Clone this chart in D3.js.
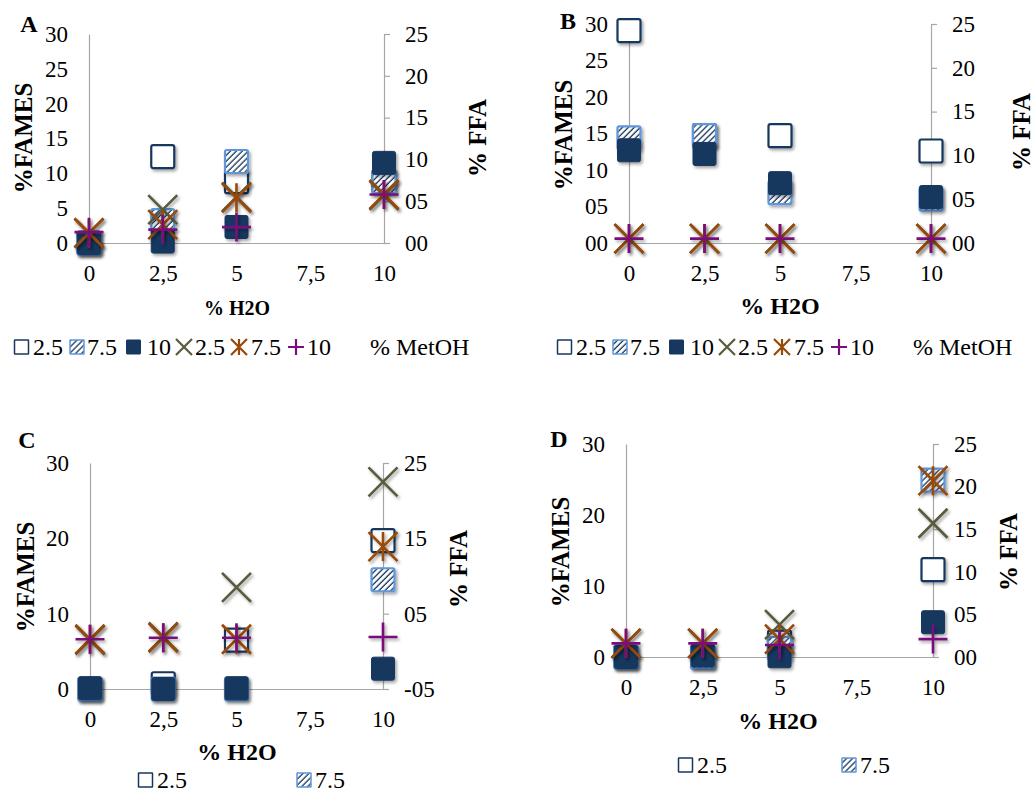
<!DOCTYPE html>
<html><head><meta charset="utf-8">
<script src="https://cdn.jsdelivr.net/npm/d3@7"></script>
<style>
body{margin:0;background:#fff}
svg{display:block}
text{font-family:"Liberation Serif","Times New Roman",serif;fill:#000}
</style>
</head><body>
<svg id="chart" width="1034" height="793"></svg>
<script>
// ---------- DATA ----------
const h2o = [0, 2.5, 5, 10];
const xTicks = [0, 2.5, 5, 7.5, 10];
const xTickLabels = ["0", "2,5", "5", "7,5", "10"];
const metohLabels = ["2.5", "7.5", "10", "2.5", "7.5", "10"];
const legendTitle = "% MetOH";

// Panel A  (FAMES on left axis, FFA on right axis)
const famesA25 = [0, 12.4, 8.8, 8.8];
const famesA75 = [0, 3.2, 11.7, 8.8];
const famesA10 = [0, 0.2, 2.3, 11.5];
const ffaA25 = [1.2, 4.0, 5.5, 5.7];
const ffaA75 = [1.2, 2.2, 5.4, 5.8];
const ffaA10 = [1.3, 1.6, 1.9, 5.8];
const leftTicksA = [0, 5, 10, 15, 20, 25, 30];
const leftLabelsA = ["0", "5", "10", "15", "20", "25", "30"];
const rightTicksA = [0, 5, 10, 15, 20, 25];
const rightLabelsA = ["00", "05", "10", "15", "20", "25"];

// Panel B
const famesB25 = [29.1, 14.7, 14.7, 12.6];
const famesB75 = [14.4, 14.7, 6.9, 6.0];
const famesB10 = [12.7, 12.2, 8.2, 6.3];
const ffaB25 = [0.5, 0.5, 0.5, 0.5];
const ffaB75 = [0.5, 0.5, 0.5, 0.5];
const ffaB10 = [0.5, 0.5, 0.5, 0.5];
const leftTicksB = [0, 5, 10, 15, 20, 25, 30];
const leftLabelsB = ["00", "05", "10", "15", "20", "25", "30"];
const rightTicksB = [0, 5, 10, 15, 20, 25];
const rightLabelsB = ["00", "05", "10", "15", "20", "25"];

// Panel C
const famesC25 = [0, 0.7, 6.5, 19.7];
const famesC75 = [0, 0, 0, 14.5];
const famesC10 = [0.1, 0, 0.1, 2.7];
const ffaC25 = [1.5, 1.9, 8.5, 22.5];
const ffaC75 = [1.6, 1.8, 1.6, 13.9];
const ffaC10 = [1.6, 1.8, 1.8, 1.9];
const leftTicksC = [0, 10, 20, 30];
const leftLabelsC = ["0", "10", "20", "30"];
const rightTicksC = [-5, 5, 15, 25];
const rightLabelsC = ["-05", "05", "15", "25"];

// Panel D
const famesD25 = [0, 0, 2.1, 12.3];
const famesD75 = [0, 0, 1.2, 24.9];
const famesD10 = [0, 0.2, 0.1, 4.9];
const ffaD25 = [1.6, 1.6, 3.8, 15.7];
const ffaD75 = [1.6, 1.6, 2.1, 20.7];
const ffaD10 = [1.6, 1.6, 1.4, 2.1];
const leftTicksD = [0, 10, 20, 30];
const leftLabelsD = ["0", "10", "20", "30"];
const rightTicksD = [0, 5, 10, 15, 20, 25];
const rightLabelsD = ["00", "05", "10", "15", "20", "25"];

// ---------- STYLE / LAYOUT ----------
const NAVY = "#17375E", LIGHTBLUE = "#5F97DA", AXIS = "#A6A6A6";
const COL_X = "#5A5A3C", COL_STAR = "#984807", COL_PLUS = "#7A0F7C";
const symbolOrder = ["hollow", "hatch", "navy", "x", "star", "plus"];

const panels = [
  { id: "A", left: 89, right: 384, top: 34, bottom: 243,
    lDom: [0, 30], rDom: [0, 25],
    lT: leftTicksA, lL: leftLabelsA, rT: rightTicksA, rL: rightLabelsA,
    fames: [famesA25, famesA75, famesA10], ffa: [ffaA25, ffaA75, ffaA10],
    letter: [29, 24], famesT: [23, 138], ffaT: [477, 138], xT: [237, 308], xSans: true,
    legY: 347, leg: { x0: 14, sym: [7.5, 63, 119.5, 170, 225, 282], txt: [19, 73, 133, 181, 237, 293], title: 356, n: 6 } },
  { id: "B", left: 629, right: 931, top: 24, bottom: 243,
    lDom: [0, 30], rDom: [0, 25],
    lT: leftTicksB, lL: leftLabelsB, rT: rightTicksB, rL: rightLabelsB,
    fames: [famesB25, famesB75, famesB10], ffa: [ffaB25, ffaB75, ffaB10],
    letter: [568, 21], famesT: [563, 135], ffaT: [1021, 132], xT: [780, 306], xSans: false,
    legY: 347, leg: { x0: 557, sym: [7.5, 63, 119.5, 170, 225, 282], txt: [19, 73, 133, 181, 237, 293], title: 356, n: 6 } },
  { id: "C", left: 90, right: 383, top: 463, bottom: 689,
    lDom: [0, 30], rDom: [-5, 25],
    lT: leftTicksC, lL: leftLabelsC, rT: rightTicksC, rL: rightLabelsC,
    fames: [famesC25, famesC75, famesC10], ffa: [ffaC25, ffaC75, ffaC10],
    letter: [27, 440], famesT: [25, 577], ffaT: [458, 569], xT: [237, 752], xSans: false,
    legY: 780, leg: { x0: 138, sym: [7.5, 166], txt: [19, 177], title: null, n: 2 } },
  { id: "D", left: 626, right: 933, top: 444, bottom: 657,
    lDom: [0, 30], rDom: [0, 25],
    lT: leftTicksD, lL: leftLabelsD, rT: rightTicksD, rL: rightLabelsD,
    fames: [famesD25, famesD75, famesD10], ffa: [ffaD25, ffaD75, ffaD10],
    letter: [559, 439], famesT: [560, 552], ffaT: [1008, 552], xT: [778, 721], xSans: false,
    legY: 765, leg: { x0: 678, sym: [7.5, 171], txt: [19, 182], title: null, n: 2 } }
];

const svg = d3.select("#chart");
const defs = svg.append("defs");
const pat = defs.append("pattern").attr("id", "hatch").attr("patternUnits", "userSpaceOnUse")
  .attr("width", 4.2).attr("height", 4.2).attr("patternTransform", "rotate(45)");
pat.append("rect").attr("width", 4.2).attr("height", 4.2).attr("fill", "#fff");
pat.append("line").attr("x1", 1).attr("y1", 0).attr("x2", 1).attr("y2", 4.2)
  .attr("stroke", NAVY).attr("stroke-width", 1.3);
const flt = defs.append("filter").attr("id", "shadow").attr("x", "-40%").attr("y", "-40%")
  .attr("width", "180%").attr("height", "180%");
flt.append("feDropShadow").attr("dx", 1.8).attr("dy", 2.2).attr("stdDeviation", 1.4)
  .attr("flood-color", "#000").attr("flood-opacity", 0.35);

function drawSymbol(g, type, cx, cy, s, shadow) {
  const h = s / 2;
  const grp = g.append("g");
  if (shadow) grp.attr("filter", "url(#shadow)");
  if (type === "hollow" || type === "hatch" || type === "navy") {
    const sw = shadow ? 2.2 : 1.5;
    grp.append("rect").attr("x", cx - h).attr("y", cy - h).attr("width", s).attr("height", s)
      .attr("rx", shadow ? 2 : 0.5)
      .attr("fill", type === "hollow" ? "#fff" : type === "hatch" ? "url(#hatch)" : NAVY)
      .attr("stroke", type === "hatch" ? LIGHTBLUE : NAVY)
      .attr("stroke-width", type === "navy" ? 1 : sw);
  } else {
    const col = type === "x" ? COL_X : type === "star" ? COL_STAR : COL_PLUS;
    const sw = shadow ? 2.6 : 2.2;
    const path = d3.path();
    if (type === "x" || type === "star") {
      path.moveTo(cx - h, cy - h); path.lineTo(cx + h, cy + h);
      path.moveTo(cx + h, cy - h); path.lineTo(cx - h, cy + h);
    }
    if (type === "star") { path.moveTo(cx, cy - h); path.lineTo(cx, cy + h); }
    if (type === "plus") {
      path.moveTo(cx - h, cy); path.lineTo(cx + h, cy);
      path.moveTo(cx, cy - h); path.lineTo(cx, cy + h);
    }
    grp.append("path").attr("d", path.toString()).attr("fill", "none")
      .attr("stroke", col).attr("stroke-width", sw);
  }
}

panels.forEach(P => {
  const g = svg.append("g");
  const x = d3.scaleLinear().domain([0, 10]).range([P.left, P.right]);
  const yL = d3.scaleLinear().domain(P.lDom).range([P.bottom, P.top]);
  const yR = d3.scaleLinear().domain(P.rDom).range([P.bottom, P.top]);

  // axes
  const ax = g.append("g").attr("transform", `translate(0,${yL(0)})`)
    .call(d3.axisBottom(x).tickValues(xTicks).tickFormat((d, i) => xTickLabels[i]).tickSize(0).tickSizeOuter(0));
  ax.selectAll("text").attr("y", 30).attr("dy", "0.35em");
  const al = g.append("g").attr("transform", `translate(${P.left},0)`)
    .call(d3.axisLeft(yL).tickValues(P.lT).tickFormat((d, i) => P.lL[i]).tickSize(0).tickSizeOuter(0).tickPadding(21));
  const ar = g.append("g").attr("transform", `translate(${P.right},0)`)
    .call(d3.axisRight(yR).tickValues(P.rT).tickFormat((d, i) => P.rL[i]).tickSize(6).tickSizeOuter(0).tickPadding(15));
  [ax, al, ar].forEach(a => {
    a.select(".domain").attr("stroke", AXIS).attr("stroke-width", 1.2);
    a.selectAll(".tick line").attr("stroke", AXIS).attr("stroke-width", 1.2);
    a.selectAll("text").attr("font-size", 23).attr("font-family", '"Liberation Serif", serif').attr("fill", "#111");
  });

  // marks: FAMES squares (left axis), FFA crosses (right axis)
  const marks = g.append("g");
  ["hollow", "hatch", "navy"].forEach((t, k) => {
    P.fames[k].forEach((v, i) => drawSymbol(marks, t, x(h2o[i]), yL(v), 23, true));
  });
  ["x", "star", "plus"].forEach((t, k) => {
    P.ffa[k].forEach((v, i) => drawSymbol(marks, t, x(h2o[i]), yR(v), 29, true));
  });

  // titles
  g.append("text").attr("x", P.letter[0]).attr("y", P.letter[1]).attr("dy", "0.35em")
    .attr("text-anchor", "middle").attr("font-weight", "bold").attr("font-size", 24).text(P.id);
  g.append("text").attr("transform", `translate(${P.famesT[0]},${P.famesT[1]}) rotate(-90)`)
    .attr("dy", "0.35em").attr("text-anchor", "middle").attr("font-weight", "bold").attr("font-size", 25).text("%FAMES");
  g.append("text").attr("transform", `translate(${P.ffaT[0]},${P.ffaT[1]}) rotate(-90)`)
    .attr("dy", "0.35em").attr("text-anchor", "middle").attr("font-weight", "bold").attr("font-size", 25).text("% FFA");
  const xt = g.append("text").attr("x", P.xT[0]).attr("y", P.xT[1]).attr("dy", "0.35em")
    .attr("text-anchor", "middle").attr("font-weight", "bold").text("% H2O");
  if (P.xSans) xt.attr("font-family", '"Liberation Sans", Arial, sans-serif').attr("font-size", 20);
  else xt.attr("font-size", 24);

  // legend
  const lg = g.append("g");
  for (let k = 0; k < P.leg.n; k++) {
    const t = symbolOrder[k];
    const sz = (t === "x" || t === "star") ? 16 : t === "plus" ? 16 : 14;
    drawSymbol(lg, t, P.leg.x0 + P.leg.sym[k], P.legY, sz, false);
    lg.append("text").attr("x", P.leg.x0 + P.leg.txt[k]).attr("y", P.legY).attr("dy", "0.35em")
      .attr("font-size", 24).text(metohLabels[k]);
  }
  if (P.leg.title !== null) {
    lg.append("text").attr("x", P.leg.x0 + P.leg.title).attr("y", P.legY).attr("dy", "0.35em")
      .attr("font-size", 24).text(legendTitle);
  }
});
</script>
</body></html>
